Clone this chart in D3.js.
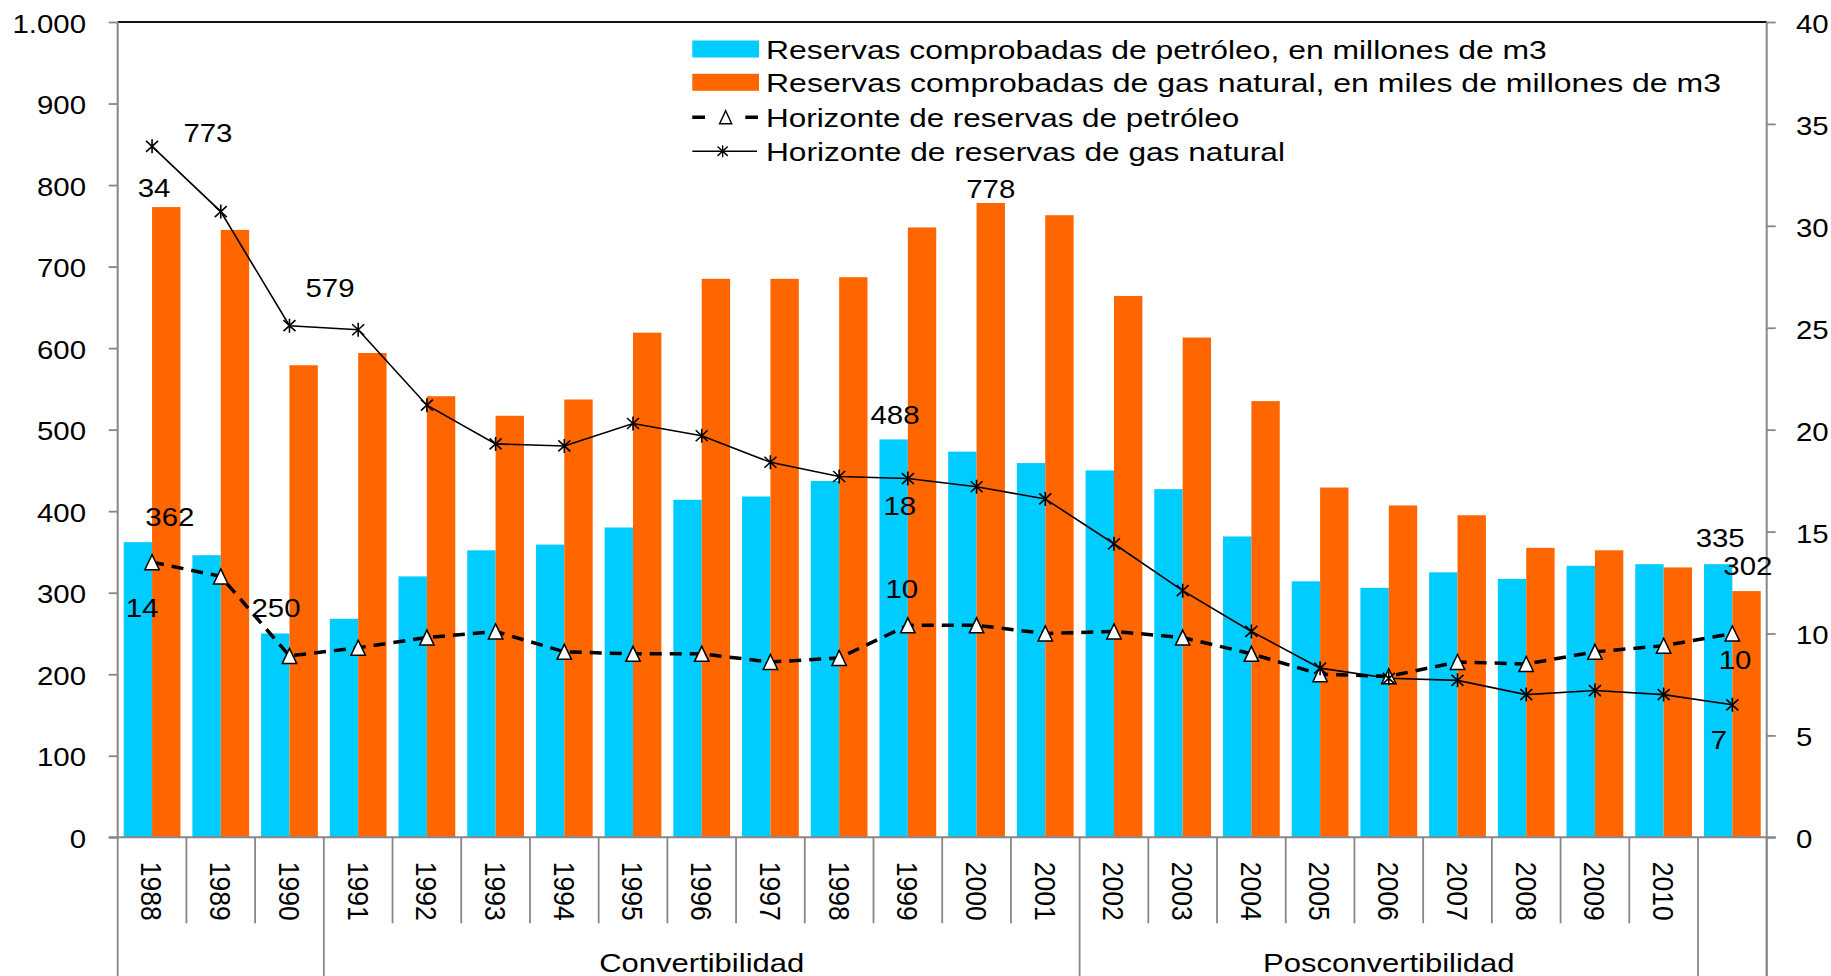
<!DOCTYPE html>
<html><head><meta charset="utf-8">
<script src="https://cdn.jsdelivr.net/npm/d3@7"></script>
<style>
body{margin:0;background:#fff}
svg{display:block}
text{font-family:"Liberation Sans",Arial,sans-serif;font-size:26.5px;fill:#000}
</style>
</head><body>
<svg id="chart" width="1831" height="976"></svg>
<script>
// ---------- data ----------
const years = ["1988","1989","1990","1991","1992","1993","1994","1995","1996","1997","1998","1999",
               "2000","2001","2002","2003","2004","2005","2006","2007","2008","2009","2010",""];
const oilReserves = [362,346,250,268,320,352,359,380,414,418,437,488,473,459,450,427,369,314,306,325,317,333,335,335];
const gasReserves = [773,745,579,594,541,517,537,619,685,685,687,748,778,763,664,613,535,429,407,395,355,352,331,302];
const oilHorizon  = [13.5,12.8,8.9,9.3,9.8,10.1,9.1,9.0,9.0,8.6,8.8,10.4,10.4,10.0,10.1,9.8,9.0,8.0,7.9,8.6,8.5,9.1,9.4,10.0];
const gasHorizon  = [33.9,30.7,25.1,24.9,21.2,19.3,19.2,20.3,19.7,18.4,17.7,17.6,17.2,16.6,14.4,12.1,10.1,8.3,7.8,7.7,7.0,7.2,7.0,6.5];
const leftTicks  = [0,100,200,300,400,500,600,700,800,900,1000];
const rightTicks = [0,5,10,15,20,25,30,35,40];
const groupLabels = ["","Convertibilidad","Posconvertibilidad",""];
const groupSizes  = [3,11,9,1];
const legendLabels = [
  "Reservas comprobadas de petróleo, en millones de m3",
  "Reservas comprobadas de gas natural, en miles de millones de m3",
  "Horizonte de reservas de petróleo",
  "Horizonte de reservas de gas natural"
];
// data labels: series, category index, pixel offset of label (centre/baseline) from the mark
const dataLabels = [
  {s:"gas", i:0,  dx:41.7, dy:-65.2},
  {s:"gasH",i:0,  dx:2,    dy:50.6},
  {s:"gas", i:2,  dx:26.3, dy:-68.4},
  {s:"oil", i:0,  dx:32,   dy:-16},
  {s:"oilH",i:0,  dx:-10,  dy:54.7},
  {s:"oil", i:2,  dx:0.7,  dy:-16.4},
  {s:"gas", i:12, dx:0,    dy:-4.5},
  {s:"oil", i:11, dx:1.3,  dy:-15.3},
  {s:"gasH",i:11, dx:-8,   dy:36.6},
  {s:"oilH",i:11, dx:-6,   dy:-27.2},
  {s:"oil", i:23, dx:2,    dy:-17.4},
  {s:"gas", i:23, dx:1.3,  dy:-16},
  {s:"oilH",i:23, dx:2.7,  dy:35.9},
  {s:"gasH",i:23, dx:-13.3,dy:44.5}
];

// ---------- layout ----------
const X0 = 117.7, X1 = 1766.7, YT = 22, YB = 837.3;
const BLUE = "#00CCFF", ORANGE = "#FF6600", GRAY = "#878787";
const SX = 1.11;   // horizontal stretch of the reference's text
const svg = d3.select("#chart");

const x = d3.scaleBand().domain(years.map((d,i)=>i)).range([X0,X1]).padding(0);
const yL = d3.scaleLinear().domain([0,1000]).range([YB,YT]);
const yR = d3.scaleLinear().domain([0,40]).range([YB,YT]);
const bw = x.bandwidth();
const barW = bw*0.413;
const cx = i => x(i) + bw/2;

const loc = d3.formatLocale({decimal:",",thousands:".",grouping:[3],currency:["",""]});
const fmtL = loc.format(",");

function stext(g, px, py, str, sx, anchor){
  return g.append("text")
    .attr("transform",`translate(${px},${py}) scale(${sx},1)`)
    .attr("text-anchor",anchor).text(str);
}

// ---------- bars ----------
const gBars = svg.append("g");
gBars.selectAll("rect.oil").data(oilReserves).join("rect")
  .attr("x",(d,i)=>cx(i)-barW).attr("width",barW)
  .attr("y",d=>yL(d)).attr("height",d=>YB-yL(d)).attr("fill",BLUE);
gBars.selectAll("rect.gas").data(gasReserves).join("rect")
  .attr("x",(d,i)=>cx(i)).attr("width",barW)
  .attr("y",d=>yL(d)).attr("height",d=>YB-yL(d)).attr("fill",ORANGE);

// ---------- axes ----------
const gAx = svg.append("g");
// top border
gAx.append("line").attr("x1",X0).attr("x2",X1).attr("y1",YT).attr("y2",YT)
  .attr("stroke","#111").attr("stroke-width",2);
// left axis
const axL = d3.axisLeft(yL).tickValues(leftTicks).tickSize(9).tickPadding(0).tickFormat(fmtL);
const gL = gAx.append("g").attr("transform",`translate(${X0},0)`).call(axL);
gL.select(".domain").remove();
gL.selectAll(".tick line").attr("stroke",GRAY).attr("stroke-width",1.8);
gL.selectAll(".tick text").remove();
gAx.append("line").attr("x1",X0).attr("x2",X0).attr("y1",YT).attr("y2",YB+1)
  .attr("stroke",GRAY).attr("stroke-width",2);
leftTicks.forEach(v=>stext(gAx, 86, yL(v)+10.5, fmtL(v), SX, "end"));
// right axis
const axR = d3.axisRight(yR).tickValues(rightTicks).tickSize(9).tickFormat("");
const gR = gAx.append("g").attr("transform",`translate(${X1},0)`).call(axR);
gR.select(".domain").remove();
gR.selectAll(".tick line").attr("stroke",GRAY).attr("stroke-width",1.8);
gAx.append("line").attr("x1",X1).attr("x2",X1).attr("y1",YT).attr("y2",976)
  .attr("stroke",GRAY).attr("stroke-width",2);
rightTicks.forEach(v=>stext(gAx, 1796, yR(v)+11, String(v), SX, "start"));
// bottom axis
gAx.append("line").attr("x1",X0-9).attr("x2",X1+9).attr("y1",YB).attr("y2",YB)
  .attr("stroke",GRAY).attr("stroke-width",2);
// category separators
const bounds = d3.range(years.length+1).map(i => i<years.length ? x(i) : X1);
const groupBounds = d3.cumsum([0].concat(groupSizes));
gAx.selectAll("line.sep").data(bounds).join("line")
  .attr("x1",d=>d).attr("x2",d=>d).attr("y1",YB)
  .attr("y2",(d,i)=>groupBounds.includes(i)?976:923.3)
  .attr("stroke",GRAY).attr("stroke-width",1.8);
// year labels
years.forEach((yr,i)=>{
  if(!yr) return;
  gAx.append("text")
    .attr("transform",`translate(${cx(i)},861.7) scale(${SX},1) rotate(90)`)
    .attr("dy","0.36em").attr("text-anchor","start").text(yr);
});
// group labels
groupLabels.forEach((lab,k)=>{
  if(!lab) return;
  const a = bounds[groupBounds[k]], b = bounds[groupBounds[k+1]];
  stext(gAx,(a+b)/2, 971.7, lab, 1.17, "middle");
});

// ---------- lines ----------
const line = yS => d3.line().x((d,i)=>cx(i)).y(d=>yS(d));
const starPath = "M-6,-5.5L6,5.5M-6,5.5L6,-5.5M0,-7L0,7";
const triPath = "M0,-7.5L7.2,7.5L-7.2,7.5Z";

svg.append("path").datum(oilHorizon).attr("d",line(yR)).attr("fill","none")
  .attr("stroke","#000").attr("stroke-width",3.5).attr("stroke-dasharray","12,8");
svg.append("path").datum(gasHorizon).attr("d",line(yR)).attr("fill","none")
  .attr("stroke","#000").attr("stroke-width",1.6);
svg.selectAll("path.tri").data(oilHorizon).join("path").attr("class","tri")
  .attr("d",triPath).attr("transform",(d,i)=>`translate(${cx(i)},${yR(d)})`)
  .attr("fill","#fff").attr("stroke","#000").attr("stroke-width",1.5);
svg.selectAll("path.star").data(gasHorizon).join("path").attr("class","star")
  .attr("d",starPath).attr("transform",(d,i)=>`translate(${cx(i)},${yR(d)})`)
  .attr("fill","none").attr("stroke","#000").attr("stroke-width",1.6);

// ---------- data labels ----------
const seriesInfo = {
  oil:  {vals:oilReserves, ax:i=>cx(i)-barW/2, y:yL},
  gas:  {vals:gasReserves, ax:i=>cx(i)+barW/2, y:yL},
  oilH: {vals:oilHorizon,  ax:i=>cx(i),        y:yR},
  gasH: {vals:gasHorizon,  ax:i=>cx(i),        y:yR}
};
const gLab = svg.append("g");
dataLabels.forEach(l=>{
  const s = seriesInfo[l.s], v = s.vals[l.i];
  stext(gLab, s.ax(l.i)+l.dx, s.y(v)+l.dy, String(Math.round(v)), SX, "middle");
});

// ---------- legend ----------
const LX = 692.3, LW = 66.7, LT = 766;
const rowBase = [59, 92.3, 126.7, 160.7];
const rowLen = [780.7, 955, 473.3, 519];
const gLeg = svg.append("g");
legendLabels.forEach((lab,k)=>{
  const b = rowBase[k];
  if(k<2){
    gLeg.append("rect").attr("x",LX).attr("y",b-18.5).attr("width",LW).attr("height",17)
      .attr("fill",k===0?BLUE:ORANGE);
  } else {
    const ly = b-9.5, mid = LX+LW/2;
    if(k===2){
      gLeg.append("line").attr("x1",LX).attr("x2",LX+LW).attr("y1",ly).attr("y2",ly)
        .attr("stroke","#000").attr("stroke-width",3.5).attr("stroke-dasharray","12.7,40.3");
      gLeg.append("path").attr("d","M0,-6.5L6,6.5L-6,6.5Z").attr("transform",`translate(${mid},${ly})`)
        .attr("fill","#fff").attr("stroke","#000").attr("stroke-width",1.5);
    } else {
      gLeg.append("line").attr("x1",LX).attr("x2",LX+LW-2).attr("y1",ly).attr("y2",ly)
        .attr("stroke","#000").attr("stroke-width",1.6);
      gLeg.append("path").attr("d",starPath).attr("transform",`translate(${mid-3},${ly}) scale(0.85)`)
        .attr("fill","none").attr("stroke","#000").attr("stroke-width",1.6);
    }
  }
  gLeg.append("text").attr("x",LT).attr("y",b).attr("textLength",rowLen[k])
    .attr("lengthAdjust","spacingAndGlyphs").text(lab);
});
</script>
</body></html>
